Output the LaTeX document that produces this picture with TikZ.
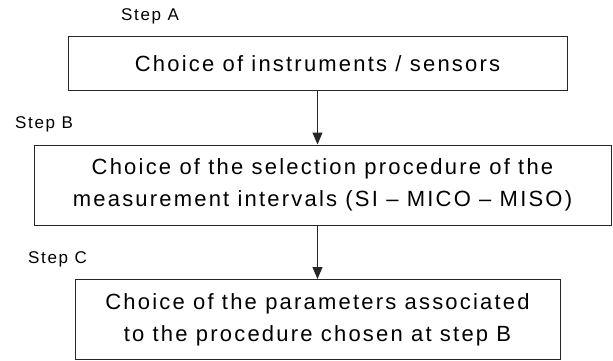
\documentclass[tikz,border=0pt]{standalone}
\usepackage{fontspec}
\setmainfont[LetterSpace=10]{Liberation Sans}
\usepackage{tikz}
\usetikzlibrary{arrows.meta}

\begin{document}
\begin{tikzpicture}[x=1pt,y=1pt,
        stepbox/.style={draw=black!85,line width=1pt,align=center,inner sep=0pt,
            minimum height=80pt,font=\fontsize{22}{32}\selectfont},
        steplabel/.style={font=\fontsize{17}{20}\selectfont},
        flow/.style={draw=black!85,line width=1pt,-{Triangle[width=10pt,length=12pt]}}]
            \useasboundingbox (0,0) rectangle (613,-361);
            \node[stepbox,minimum width=499pt,minimum height=53pt] (boxA) at (317.5,-63.5)
                {Choice of instruments / sensors};
            \node[stepbox,minimum width=577pt] (boxB) at (322.5,-185)
                {Choice of the selection procedure of the\\measurement intervals (SI -- MICO -- MISO)};
            \node[stepbox,minimum width=485pt] (boxC) at (317.5,-319.5)
                {Choice of the parameters associated\\to the procedure chosen at step B};
            \node[steplabel] (labA) at (150,-16) {Step A};
            \node[steplabel] (labB) at (44,-124) {Step B};
            \node[steplabel] (labC) at (57.5,-259) {Step C};
            \draw[flow] (boxA.south) -- (boxA.south |- boxB.north);
            \draw[flow] (boxA.south |- boxB.south) -- (boxA.south |- boxC.north);
        \end{tikzpicture}
\end{document}
